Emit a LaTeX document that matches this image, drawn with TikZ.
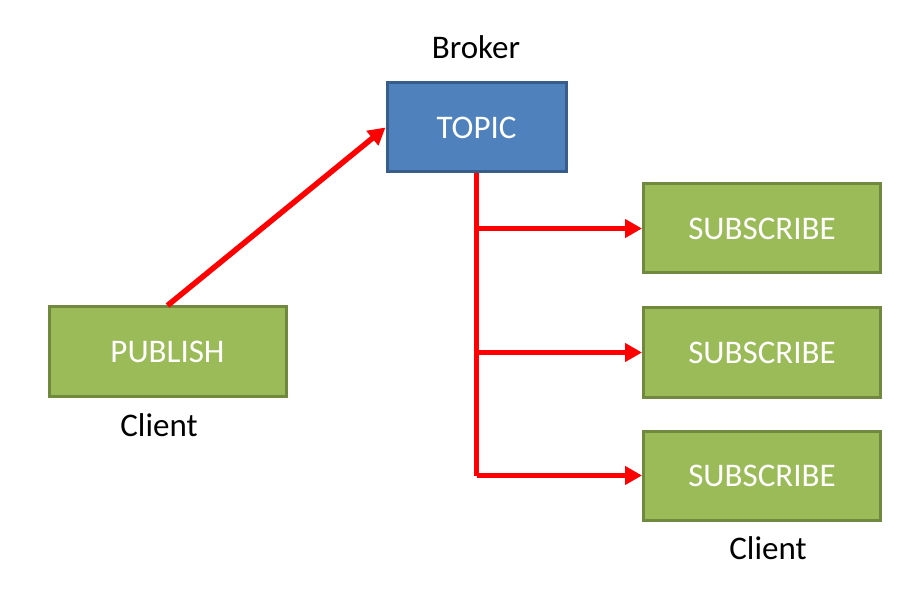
\documentclass[tikz,border=0pt]{standalone}
\usepackage{fontspec}
\setmainfont{Carlito}
\usetikzlibrary{arrows.meta}
\definecolor{bluefill}{HTML}{4F81BD}
\definecolor{blueline}{HTML}{385D8A}
\definecolor{greenfill}{HTML}{9BBB59}
\definecolor{greenline}{HTML}{71893F}
\tikzset{
  topicbox/.style={draw=blueline, fill=bluefill, line width=3pt, minimum width=179pt, minimum height=89pt, text=white, font=\fontsize{33}{38}\selectfont, inner sep=0pt},
  clientbox/.style={draw=greenline, fill=greenfill, line width=3pt, minimum width=237pt, minimum height=89pt, text=white, font=\fontsize{33}{38}\selectfont, inner sep=0pt},
  lbl/.style={font=\fontsize{33}{38}\selectfont, text=black, inner sep=0pt},
  link/.style={draw=red, line width=5.5pt},
  tip/.style={-{Triangle[length=17pt,width=18pt]}},
}
\begin{document}
\begin{tikzpicture}[x=1pt,y=-1pt]
\useasboundingbox (0,0) rectangle (919,596);
\node[topicbox] (topic) at (476.5,127.5) {TOPIC};
\node[clientbox] (pub) at (167.5,351.5) {PUBLISH};
\node[clientbox] (sub1) at (762,228.5) {SUBSCRIBE};
\node[clientbox] (sub2) at (762,352.5) {SUBSCRIBE};
\node[clientbox] (sub3) at (762,475.5) {SUBSCRIBE};
\node[lbl] (broker) at (476,47) {Broker};
\node[lbl] (pubclient) at (159,425) {Client};
\node[lbl] (subclient) at (768,548) {Client};
\coordinate (j1) at (topic.south |- sub1.west);
\coordinate (j2) at (topic.south |- sub2.west);
\coordinate (j3) at (topic.south |- sub3.west);
\draw[link,tip] (pub.north) -- (topic.west);
\draw[link] (topic.south) -- (j3);
\draw[link,tip] (j1) -- (sub1.west);
\draw[link,tip] (j2) -- (sub2.west);
\draw[link,tip] (j3) -- (sub3.west);
\end{tikzpicture}
\end{document}
